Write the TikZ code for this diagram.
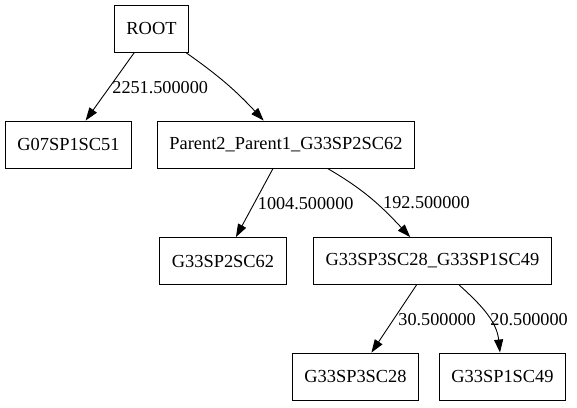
\documentclass[tikz,border=0pt]{standalone}
\usepackage{fontspec}
\setmainfont{Liberation Serif}
\usetikzlibrary{arrows.meta}
\tikzset{
  treebox/.style={draw, line width=0.9pt, minimum height=47pt, minimum width=72pt,
    inner xsep=12pt, font=\fontsize{18.4}{22}\selectfont},
  treeedge/.style={line width=0.9pt, -{Triangle[length=13pt,width=9pt]}},
  weight/.style={font=\fontsize{18.2}{22}\selectfont, inner sep=2pt}
}

\begin{document}
\begin{tikzpicture}[x=1pt, y=1pt]
  \useasboundingbox (0,0) rectangle (577,-407);
  \node[treebox] (root) at (151.5,-28.5) {ROOT};
  \node[treebox] (g07) at (68.5,-144.5) {G07SP1SC51};
  \node[treebox] (par) at (286,-144.5) {Parent2\_Parent1\_G33SP2SC62};
  \node[treebox] (g33a) at (223,-261) {G33SP2SC62};
  \node[treebox] (pair) at (432.5,-261) {G33SP3SC28\_G33SP1SC49};
  \node[treebox] (g33b) at (355.5,-376.5) {G33SP3SC28};
  \node[treebox] (g33c) at (502.5,-376.5) {G33SP1SC49};
  \draw[treeedge] (root) -- node[weight, right, yshift=-1pt] {2251.500000} (g07);
  \draw[treeedge] (root) to[out=-35, in=133] (par);
  \draw[treeedge] (par) -- node[weight, right, xshift=1pt, yshift=-1pt] {1004.500000} (g33a);
  \draw[treeedge] (par) to[out=-30, in=133] node[weight, right, xshift=9pt, yshift=-3pt] {192.500000} (pair);
  \draw[treeedge] (pair) -- node[weight, right, xshift=2pt, yshift=-1pt] {30.500000} (g33b);
  \draw[treeedge] (pair) to[out=-42, in=96] node[weight, right, xshift=1pt, yshift=-5pt] {20.500000} (g33c);
\end{tikzpicture}
\end{document}
